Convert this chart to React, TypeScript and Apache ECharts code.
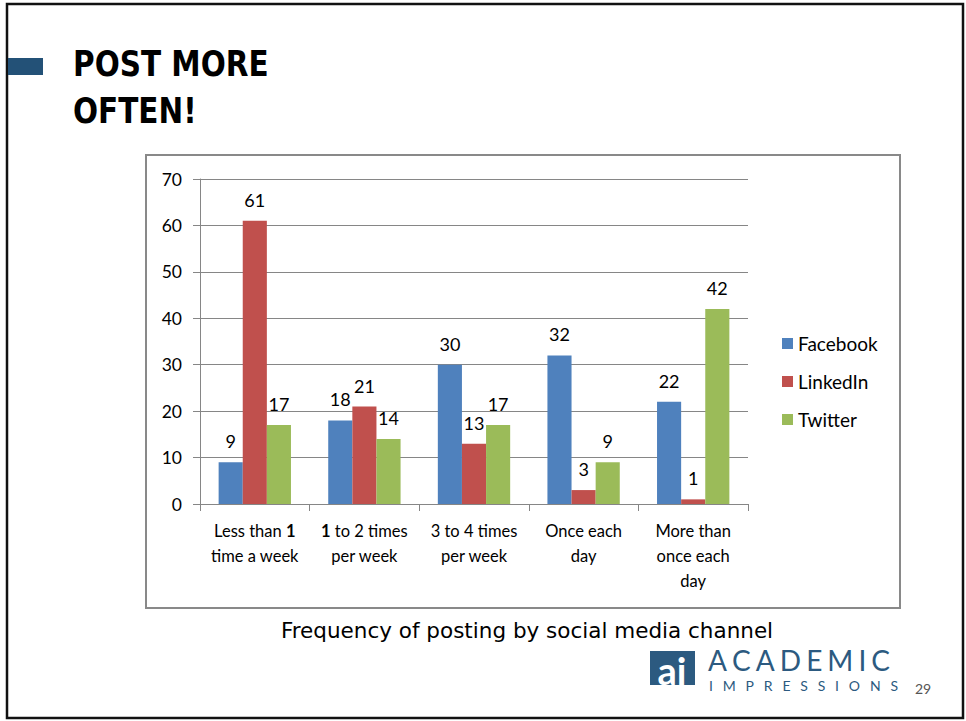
import React, { useEffect, useRef } from "react";
import * as echarts from "echarts";

const categories = [
  "Less than 1\ntime a week",
  "1 to 2 times\nper week",
  "3 to 4 times\nper week",
  "Once each\nday",
  "More than\nonce each\nday",
];
const facebook = [9, 18, 30, 32, 22];
const linkedin = [61, 21, 13, 3, 1];
const twitter = [17, 14, 17, 9, 42];
const yTicks = { min: 0, max: 70, interval: 10 };

const chartFont = "Lato, 'Open Sans', sans-serif";
const slideFont = "'DejaVu Sans', Verdana, sans-serif";

function spacedLetters(text: string, font: string, x: number, y: number, totalWidth: number, fill: string, lh: number) {
  const ctx = document.createElement("canvas").getContext("2d")!;
  ctx.font = font;
  const chars = text.split("");
  const widths = chars.map((c) => ctx.measureText(c).width);
  const sum = widths.reduce((a, b) => a + b, 0);
  const extra = chars.length > 1 ? (totalWidth - sum) / (chars.length - 1) : 0;
  let cx = x;
  return chars.map((c, i) => {
    const el = {
      type: "text",
      x: cx,
      y,
      style: { text: c, font, fill, verticalAlign: "middle", lineHeight: lh },
    };
    cx += widths[i] + extra;
    return el;
  });
}

export default function App() {
  const ref = useRef<HTMLDivElement>(null);
  useEffect(() => {
    if (!ref.current) return;
    const chart = echarts.init(ref.current, null, { renderer: "svg" });
    const label = {
      show: true,
      position: "top",
      distance: 12,
      fontSize: 18,
      color: "#000",
      fontFamily: chartFont,
    };
    const logoBlue = "#2C5A80";
    chart.setOption({
      animation: false,
      backgroundColor: "#fff",
      textStyle: { fontFamily: chartFont },
      grid: { left: 200, top: 179, width: 548, height: 325 },
      legend: {
        orient: "vertical",
        left: 782,
        top: 334,
        padding: 0,
        itemWidth: 11,
        itemHeight: 11,
        itemGap: 19,
        icon: "rect",
        textStyle: { fontSize: 19, color: "#000", fontFamily: chartFont },
        data: ["Facebook", "LinkedIn", "Twitter"],
      },
      xAxis: {
        type: "category",
        data: categories,
        axisLine: { lineStyle: { color: "#868686", width: 1 } },
        axisTick: { show: true, length: 7, lineStyle: { color: "#868686" } },
        axisLabel: {
          interval: 0,
          fontSize: 16.5,
          lineHeight: 25,
          color: "#000",
          margin: 14,
          fontFamily: chartFont,
          formatter: (v: string) => v.replace(/\b1\b/g, "{b|1}"),
          rich: {
            b: { fontSize: 16.5, fontWeight: "bold", lineHeight: 25, color: "#000", fontFamily: chartFont },
          },
        },
      },
      yAxis: {
        type: "value",
        min: yTicks.min,
        max: yTicks.max,
        interval: yTicks.interval,
        axisLine: { show: true, lineStyle: { color: "#868686", width: 1 } },
        axisTick: { show: true, length: 7, lineStyle: { color: "#868686" } },
        splitLine: { lineStyle: { color: "#868686", width: 1 } },
        axisLabel: { fontSize: 17.5, color: "#000", margin: 18, fontFamily: chartFont },
      },
      series: [
        { name: "Facebook", type: "bar", data: facebook, itemStyle: { color: "#4F81BD" }, label, barGap: "0%", barCategoryGap: "34%" },
        { name: "LinkedIn", type: "bar", data: linkedin, itemStyle: { color: "#C0504D" }, label, barGap: "0%", barCategoryGap: "34%" },
        { name: "Twitter", type: "bar", data: twitter, itemStyle: { color: "#9BBB59" }, label, barGap: "0%", barCategoryGap: "34%" },
      ],
      graphic: [
        {
          type: "rect",
          shape: { x: 7, y: 4, width: 956, height: 714 },
          style: { fill: "none", stroke: "#111", lineWidth: 2.5 },
          silent: true,
        },
        {
          type: "rect",
          shape: { x: 8, y: 58, width: 35, height: 17 },
          style: { fill: "#235177" },
        },
        {
          type: "text",
          x: 73,
          y: 40,
          scaleX: 0.82,
          style: {
            text: "POST MORE\nOFTEN!",
            font: `bold 36px ${slideFont}`,
            lineHeight: 47,
            fill: "#000",
            verticalAlign: "top",
          },
        },
        {
          type: "rect",
          shape: { x: 146, y: 155, width: 754, height: 453 },
          style: { fill: "none", stroke: "#898989", lineWidth: 2 },
          silent: true,
          z: -1,
        },
        {
          type: "text",
          x: 527,
          y: 630,
          style: {
            text: "Frequency of posting by social media channel",
            font: `21.5px ${slideFont}`,
            fill: "#000",
            align: "center",
            verticalAlign: "middle",
          },
        },
        {
          type: "rect",
          shape: { x: 650, y: 651, width: 45, height: 34 },
          style: { fill: logoBlue },
        },
        {
          type: "text",
          x: 672,
          y: 670,
          style: {
            text: "ai",
            font: `bold 38px ${chartFont}`,
            fill: "#fff",
            align: "center",
            verticalAlign: "middle",
            lineHeight: 30,
          },
        },
        ...spacedLetters("ACADEMIC", `28px ${chartFont}`, 708, 660, 182, logoBlue, 24),
        ...spacedLetters("IMPRESSIONS", `14px ${chartFont}`, 709, 685, 189, logoBlue, 12),
        {
          type: "text",
          x: 915,
          y: 688,
          style: {
            text: "29",
            font: `14px ${chartFont}`,
            fill: "#555",
            verticalAlign: "middle",
          },
        },
      ],
    });
    return () => chart.dispose();
  }, []);
  return (
    <div
      ref={ref}
      style={{ position: "fixed", left: 0, top: 0, width: 966, height: 721 }}
    />
  );
}
